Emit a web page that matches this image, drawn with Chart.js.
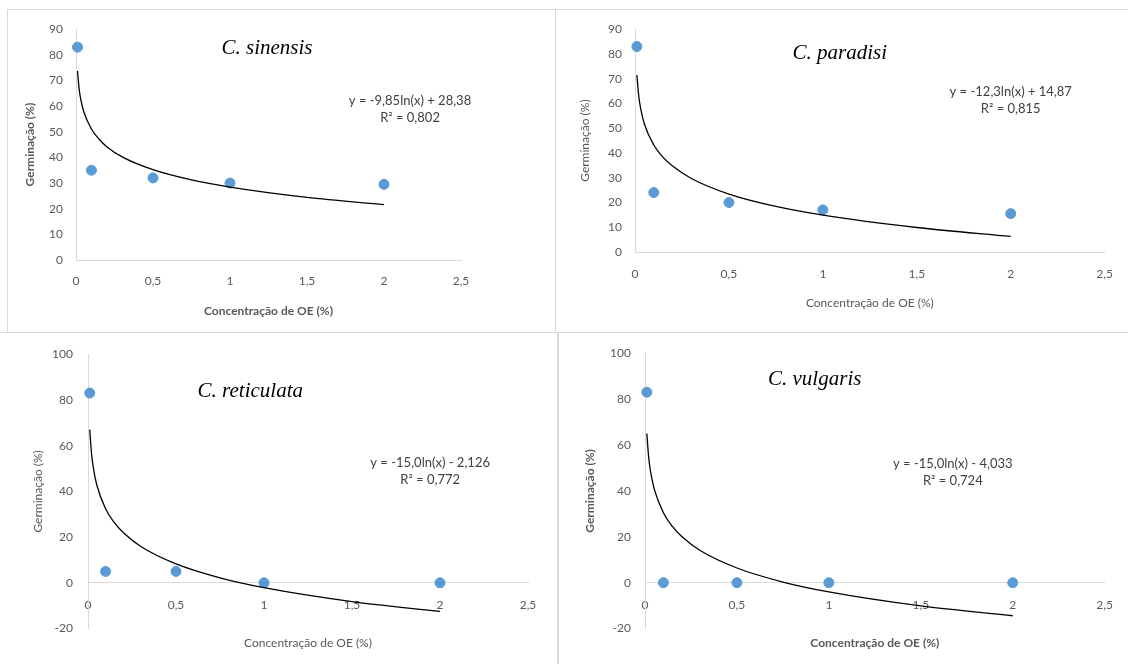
<!DOCTYPE html>
<html>
<head>
<meta charset="utf-8">
<script src="https://cdn.jsdelivr.net/npm/chart.js@4.4.1/dist/chart.umd.min.js"></script>
<style>
  body { margin: 0; background: #fff; width: 1128px; height: 664px; position: relative; overflow: hidden; }
  .frame { position: absolute; box-sizing: border-box; border: 0 solid #d9d9d9; }
  canvas { position: absolute; }
</style>
</head>
<body>
<div class="frame" style="left:7px;top:9px;width:549px;height:324px;border-width:1px;"></div>
<div class="frame" style="left:556px;top:9px;width:572px;height:323px;border-top-width:1px;"></div>
<div class="frame" style="left:0;top:332px;width:558px;height:332px;border-top-width:1px;border-right-width:1px;"></div>
<div class="frame" style="left:558px;top:332px;width:570px;height:332px;border-top-width:1px;border-left-width:1px;"></div>

<canvas id="c1" width="548" height="323" style="left:7px;top:9px;"></canvas>
<canvas id="c2" width="572" height="323" style="left:556px;top:9px;"></canvas>
<canvas id="c3" width="557" height="332" style="left:0;top:332px;"></canvas>
<canvas id="c4" width="570" height="332" style="left:558px;top:332px;"></canvas>

<script>
// Concentração de OE (%) used in the assays
const concentrations = [0.01, 0.1, 0.5, 1, 2];

// Germinação (%) read from the points
const sinensisGerm = [83, 35, 32, 30, 29.5];
const paradisiGerm = [83, 24, 20, 17, 15.5];
const reticulataGerm = [83, 5, 5, 0, 0];
const vulgarisGerm = [83, 0, 0, 0, 0];

// Log trendlines, values
const trendX = [0.01, 0.02, 0.03, 0.05, 0.1, 0.15, 0.2, 0.3, 0.5, 0.75, 1, 1.5, 2];
const sinensisTrend = [73.7, 66.9, 62.9, 57.9, 51.1, 47.1, 44.2, 40.2, 35.2, 31.2, 28.4, 24.4, 21.6];
const paradisiTrend = [71.5, 63.0, 58.0, 51.7, 43.2, 38.2, 34.7, 29.7, 23.4, 18.4, 14.9, 9.9, 6.3];
const reticulataTrend = [67.0, 56.6, 50.5, 42.8, 32.4, 26.3, 22.0, 15.9, 8.3, 2.2, -2.1, -8.2, -12.5];
const vulgarisTrend = [65.0, 54.6, 48.6, 40.9, 30.5, 24.4, 20.1, 14.0, 6.4, 0.3, -4.0, -10.1, -14.4];

const speciesNames = ['C. sinensis', 'C. paradisi', 'C. reticulata', 'C. vulgaris'];
const equations = ['y = -9,85ln(x) + 28,38', 'y = -12,3ln(x) + 14,87', 'y = -15,0ln(x) - 2,126', 'y = -15,0ln(x) - 4,033'];
const rSquared = ['R² = 0,802', 'R² = 0,815', 'R² = 0,772', 'R² = 0,724'];
const yTitles = ['Germinação (%)', 'Germinação (%)', 'Germinação (%)', 'Germinação (%)'];
const xTitle = 'Concentração de OE (%)';

const TEXT = '#595959';
const AXIS = '#d9d9d9';
const DOT = '#5B9BD5';
const FONT = 'Lato, "Liberation Sans", sans-serif';

// layout of each panel
const panels = [
  { canvas: 'c1', germ: sinensisGerm, trend: sinensisTrend, yMin: 0, yMax: 90, yStep: 10, bold: true, atZero: false,
    pad: { top: 12, right: 94, bottom: 0, left: 0 }, yW: 69, yTickPad: 13, yTitlePad: 16, xH: 72, xTickPad: 14, xTitlePad: 14,
    namePos: [1.24, 82.4], eqPos: [2.169, 62.2] },
  { canvas: 'c2', germ: paradisiGerm, trend: paradisiTrend, yMin: 0, yMax: 90, yStep: 10, bold: false, atZero: false,
    pad: { top: 15, right: 17, bottom: 0, left: 0 }, yW: 79, yTickPad: 13, yTitlePad: 22, xH: 80, xTickPad: 15, xTitlePad: 22,
    namePos: [1.09, 80.2], eqPos: [2.0, 64.8] },
  { canvas: 'c3', germ: reticulataGerm, trend: reticulataTrend, yMin: -20, yMax: 100, yStep: 20, bold: false, atZero: true,
    pad: { top: 17, right: 29, bottom: 0, left: 0 }, yW: 88, yTickPad: 15, yTitlePad: 31, xTickPad: 15,
    namePos: [0.922, 83.5], eqPos: [1.944, 52.6] },
  { canvas: 'c4', germ: vulgarisGerm, trend: vulgarisTrend, yMin: -20, yMax: 100, yStep: 20, bold: true, atZero: true,
    pad: { top: 15, right: 17, bottom: 0, left: 0 }, yW: 87, yTickPad: 14, yTitlePad: 25, xTickPad: 15,
    namePos: [0.923, 88.5], eqPos: [1.674, 51.9] }
];

// species name and trendline equation written inside the plot
const notesPlugin = {
  id: 'notes',
  afterDatasetsDraw(chart, args, opts) {
    const { ctx, scales: { x, y } } = chart;
    ctx.save();
    ctx.textAlign = 'center';
    ctx.textBaseline = 'middle';
    ctx.fillStyle = '#000';
    ctx.font = 'italic 21px "Liberation Serif", serif';
    ctx.fillText(opts.name, x.getPixelForValue(opts.namePos[0]), y.getPixelForValue(opts.namePos[1]));
    ctx.fillStyle = '#404040';
    ctx.font = '13px ' + FONT;
    const ex = x.getPixelForValue(opts.eqPos[0]);
    const ey = y.getPixelForValue(opts.eqPos[1]);
    ctx.fillText(opts.eq, ex, ey);
    ctx.fillText(opts.r2, ex, ey + 17);
    ctx.restore();
  }
};

panels.forEach((p, i) => {
  const weight = p.bold ? 'bold' : 'normal';

  const xScale = {
    type: 'linear',
    min: 0,
    max: 2.5,
    grid: { display: false, drawTicks: false },
    border: { display: true, color: AXIS, width: 1 },
    ticks: {
      stepSize: 0.5,
      padding: p.xTickPad,
      maxRotation: 0,
      color: TEXT,
      font: { family: FONT, size: 12 },
      callback: v => String(v).replace('.', ',')
    }
  };
  if (p.atZero) {
    xScale.position = { y: 0 };
  } else {
    xScale.position = 'bottom';
    xScale.title = { display: true, text: xTitle, color: TEXT, font: { family: FONT, size: 12, weight: weight }, padding: { top: 0, bottom: p.xTitlePad } };
    xScale.afterFit = s => { s.height = p.xH; };
  }

  const yScale = {
    type: 'linear',
    position: 'left',
    min: p.yMin,
    max: p.yMax,
    grid: { display: false, drawTicks: false },
    border: { display: true, color: AXIS, width: 1 },
    ticks: { stepSize: p.yStep, padding: p.yTickPad, autoSkip: false, color: TEXT, font: { family: FONT, size: 12 } },
    title: { display: true, text: yTitles[i], color: TEXT, font: { family: FONT, size: 12, weight: weight }, padding: { top: p.yTitlePad, bottom: 0 } },
    afterFit: s => { s.width = p.yW; }
  };

  new Chart(document.getElementById(p.canvas), {
    type: 'scatter',
    data: {
      datasets: [
        {
          type: 'line',
          label: 'Log',
          data: trendX.map((x, k) => ({ x: x, y: p.trend[k] })),
          borderColor: '#000',
          borderWidth: 1.3,
          pointRadius: 0,
          fill: false,
          cubicInterpolationMode: 'monotone'
        },
        {
          label: speciesNames[i],
          data: concentrations.map((x, k) => ({ x: x, y: p.germ[k] })),
          backgroundColor: DOT,
          borderColor: DOT,
          pointRadius: 5,
          clip: false
        }
      ]
    },
    options: {
      responsive: false,
      animation: false,
      devicePixelRatio: 1,
      layout: { padding: p.pad },
      scales: { x: xScale, y: yScale },
      plugins: {
        legend: { display: false },
        tooltip: { enabled: false },
        title: p.atZero ? {
          display: true,
          position: 'bottom',
          fullSize: false,
          text: xTitle,
          color: TEXT,
          font: { family: FONT, size: 12, weight: weight },
          padding: { top: 7, bottom: 14 }
        } : { display: false },
        notes: { name: speciesNames[i], namePos: p.namePos, eq: equations[i], r2: rSquared[i], eqPos: p.eqPos }
      }
    },
    plugins: [notesPlugin]
  });
});
</script>
</body>
</html>
